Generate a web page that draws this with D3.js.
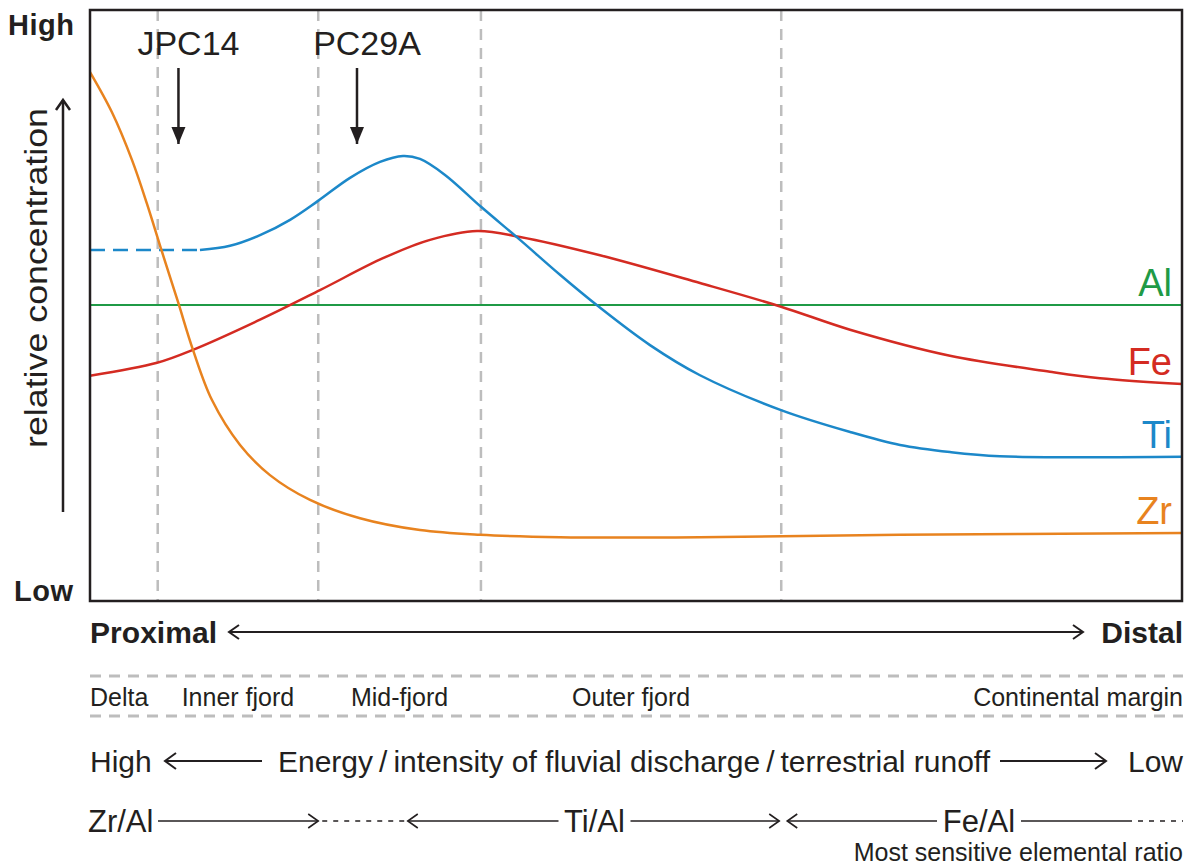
<!DOCTYPE html>
<html>
<head>
<meta charset="utf-8">
<script src="https://cdn.jsdelivr.net/npm/d3@7"></script>
<style>
  body { margin: 0; background: #fff; }
  svg { display: block; }
  text { font-family: "Liberation Sans", Arial, Helvetica, sans-serif; fill: #231f20; }
</style>
</head>
<body>
<svg width="1194" height="868"></svg>
<script>
// ---- data (x: 0 = proximal, 100 = distal; y: 0 = low, 100 = high) ----
const zrCurve = [[0,89.5],[2.01,82.7],[3.85,74.6],[5.22,67.2],[6.59,59.1],[8.06,50.6],[9.43,42.5],
  [11.17,34.0],[13.74,26.4],[16.48,21.3],[20.15,17.1],[24.73,14.0],[30.22,12.0],[35.71,11.2],
  [43.04,10.8],[55.86,10.8],[74.18,11.2],[100,11.5]];
const tiDashed = [[0,59.4],[10.07,59.4]];
const tiCurve = [[10.07,59.4],[12.82,60.1],[15.57,61.9],[18.32,64.5],[20.88,67.7],[23.81,71.6],
  [26.56,74.3],[28.66,75.3],[30.22,74.8],[32.51,72.1],[35.81,66.7],[39.38,61.1],[43.04,55.2],
  [46.52,49.9],[51.28,43.3],[55.86,38.2],[63.28,32.3],[69.6,28.6],[74.18,26.4],[78.75,25.2],
  [83.33,24.5],[100,24.4]];
const feCurve = [[0,38.1],[6.14,40.3],[9.43,42.5],[15.57,47.6],[21.06,52.6],[26.83,58.0],[31.14,61.1],
  [35.44,62.6],[39.38,61.6],[46.7,58.5],[55.86,53.8],[63.28,49.8],[69.6,45.9],[78.75,41.5],
  [87.91,38.8],[92.49,37.7],[100,36.7]];
const alCurve = [[0,50.1],[100,50.1]];

const elements = ["Al", "Fe", "Ti", "Zr"];
const zoneNames = ["Delta", "Inner fjord", "Mid-fjord", "Outer fjord", "Continental margin"];
const zoneBounds = [6.2, 20.9, 35.8, 63.3];
const cores = ["JPC14", "PC29A"];
const coreX = [8.1, 24.45];
const ratios = ["Zr/Al", "Ti/Al", "Fe/Al"];
const ratioSpans = [[0, 20.9], [29.1, 63.3], [63.3, 100]];

// ---- setup ----
const svg = d3.select("svg");
const pLeft = 90, pRight = 1182, pTop = 10, pBottom = 601;
const x = d3.scaleLinear().domain([0, 100]).range([pLeft, pRight]);
const y = d3.scaleLinear().domain([0, 100]).range([pBottom, pTop]);
const ink = "#231f20";
const colors = { Al: "#1f9a46", Fe: "#d42b22", Ti: "#1c88c9", Zr: "#e8831f" };

// arrow helper: straight line with open chevrons or filled heads
function arrow(x1, y1, x2, y2, o) {
  o = Object.assign({ start: false, end: true, len: 10, half: 7, sw: 2, fill: false }, o);
  svg.append("line").attr("x1", x1).attr("y1", y1).attr("x2", x2).attr("y2", y2)
    .attr("stroke", ink).attr("stroke-width", o.sw);
  const a = Math.atan2(y2 - y1, x2 - x1);
  function head(px, py, ang) {
    const bx = px - Math.cos(ang) * o.len, by = py - Math.sin(ang) * o.len;
    const nx = -Math.sin(ang) * o.half, ny = Math.cos(ang) * o.half;
    if (o.fill) {
      svg.append("path").attr("d", `M${bx + nx},${by + ny}L${px},${py}L${bx - nx},${by - ny}Z`)
        .attr("fill", ink);
    } else {
      svg.append("path").attr("d", `M${bx + nx},${by + ny}L${px},${py}L${bx - nx},${by - ny}`)
        .attr("fill", "none").attr("stroke", ink).attr("stroke-width", o.sw)
        .attr("stroke-linejoin", "miter");
    }
  }
  if (o.end) head(x2, y2, a);
  if (o.start) head(x1, y1, a + Math.PI);
}

// zone boundaries (vertical dashed)
svg.append("g").selectAll("line").data(zoneBounds).join("line")
  .attr("x1", d => x(d)).attr("x2", d => x(d))
  .attr("y1", pTop).attr("y2", pBottom)
  .attr("stroke", "#bdbdbd").attr("stroke-width", 2.5).attr("stroke-dasharray", "11,8");

// curves
const line = d3.line().x(d => x(d[0])).y(d => y(d[1])).curve(d3.curveCatmullRom.alpha(0.5));
svg.append("path").datum(alCurve).attr("d", line).attr("fill", "none")
  .attr("stroke", colors.Al).attr("stroke-width", 2);
svg.append("path").datum(feCurve).attr("d", line).attr("fill", "none")
  .attr("stroke", colors.Fe).attr("stroke-width", 2.5);
svg.append("path").datum(tiDashed).attr("d", line).attr("fill", "none")
  .attr("stroke", colors.Ti).attr("stroke-width", 2.5).attr("stroke-dasharray", "15,8");
svg.append("path").datum(tiCurve).attr("d", line).attr("fill", "none")
  .attr("stroke", colors.Ti).attr("stroke-width", 2.5);
svg.append("path").datum(zrCurve).attr("d", line).attr("fill", "none")
  .attr("stroke", colors.Zr).attr("stroke-width", 2.5);

// element labels at the distal end
const ends = { Al: alCurve, Fe: feCurve, Ti: tiCurve, Zr: zrCurve };
elements.forEach(el => {
  const last = ends[el][ends[el].length - 1];
  svg.append("text").attr("x", 1172).attr("y", y(last[1]) - 9)
    .attr("text-anchor", "end").attr("font-size", 38)
    .style("fill", colors[el]).text(el);
});

// frame
svg.append("rect").attr("x", pLeft).attr("y", pTop).attr("width", pRight - pLeft).attr("height", pBottom - pTop)
  .attr("fill", "none").attr("stroke", ink).attr("stroke-width", 2.5);

// y axis words
svg.append("text").attr("x", 8).attr("y", y(100) + 25).attr("font-size", 29)
  .attr("font-weight", "bold").attr("textLength", 66).text("High");
svg.append("text").attr("x", 14).attr("y", y(0)).attr("font-size", 29)
  .attr("font-weight", "bold").attr("textLength", 59).text("Low");
svg.append("text").attr("transform", "translate(47,278) rotate(-90)")
  .attr("text-anchor", "middle").attr("font-size", 31)
  .attr("textLength", 340).attr("lengthAdjust", "spacingAndGlyphs").text("relative concentration");
arrow(63, 512, 63, 100, { len: 10, half: 7, sw: 2.5 });

// core sites
cores.forEach((c, i) => {
  const cx = x(coreX[i]);
  svg.append("text").attr("x", cx + 10).attr("y", 55).attr("text-anchor", "middle")
    .attr("font-size", 34).text(c);
  arrow(cx, 68, cx, 144, { fill: true, len: 17, half: 7, sw: 2.5 });
});

// proximal / distal
svg.append("text").attr("x", pLeft).attr("y", 643).attr("font-size", 30)
  .attr("font-weight", "bold").attr("textLength", 127).text("Proximal");
svg.append("text").attr("x", 1183).attr("y", 643).attr("font-size", 30)
  .attr("text-anchor", "end").attr("font-weight", "bold").text("Distal");
arrow(229, 632, 1083, 632, { start: true, len: 10, half: 7, sw: 2 });

// zone row
[676, 716].forEach(yy => {
  svg.append("line").attr("x1", pLeft).attr("x2", 1183).attr("y1", yy).attr("y2", yy)
    .attr("stroke", "#bdbdbd").attr("stroke-width", 3).attr("stroke-dasharray", "11,8");
});
const edges = [0].concat(zoneBounds, [100]);
zoneNames.forEach((z, i) => {
  let tx = (x(edges[i]) + x(edges[i + 1])) / 2, anchor = "middle";
  if (i === 0) { tx = pLeft; anchor = "start"; }
  if (i === zoneNames.length - 1) { tx = 1183; anchor = "end"; }
  svg.append("text").attr("x", tx).attr("y", 706).attr("text-anchor", anchor)
    .attr("font-size", 25).text(z);
});

// energy row
svg.append("text").attr("x", pLeft).attr("y", 772).attr("font-size", 30).text("High");
arrow(262, 761, 165, 761, { len: 11, half: 8, sw: 2 });
svg.append("text").attr("x", 278).attr("y", 772).attr("font-size", 30)
  .attr("textLength", 712).attr("lengthAdjust", "spacingAndGlyphs")
  .text("Energy\u2009/\u2009intensity of fluvial discharge\u2009/\u2009terrestrial runoff");
arrow(1000, 761, 1106, 761, { len: 11, half: 8, sw: 2 });
svg.append("text").attr("x", 1183).attr("y", 772).attr("text-anchor", "end")
  .attr("font-size", 30).text("Low");

// most sensitive ratio row
const ry = 821;
svg.append("text").attr("x", 88).attr("y", 832).attr("font-size", 31).text(ratios[0]);
arrow(158, ry, x(ratioSpans[0][1]), ry, { len: 10, half: 7, sw: 1.6 });
svg.append("line").attr("x1", x(ratioSpans[0][1]) + 4).attr("x2", x(ratioSpans[1][0]) - 2)
  .attr("y1", ry).attr("y2", ry).attr("stroke", ink).attr("stroke-width", 1.6)
  .attr("stroke-dasharray", "5,6");
const tiMid = (x(ratioSpans[1][0]) + x(ratioSpans[1][1])) / 2;
svg.append("text").attr("x", tiMid).attr("y", 832).attr("text-anchor", "middle")
  .attr("font-size", 31).text(ratios[1]);
arrow(tiMid - 36, ry, x(ratioSpans[1][0]), ry, { len: 10, half: 7, sw: 1.6 });
arrow(tiMid + 36, ry, x(ratioSpans[1][1]) - 2, ry, { len: 10, half: 7, sw: 1.6 });
const feMid = 979;
svg.append("text").attr("x", feMid).attr("y", 832).attr("text-anchor", "middle")
  .attr("font-size", 31).text(ratios[2]);
arrow(feMid - 42, ry, x(ratioSpans[2][0]) + 6, ry, { len: 10, half: 7, sw: 1.6 });
svg.append("line").attr("x1", feMid + 42).attr("x2", 1132).attr("y1", ry).attr("y2", ry)
  .attr("stroke", ink).attr("stroke-width", 1.6);
svg.append("line").attr("x1", 1138).attr("x2", 1183).attr("y1", ry).attr("y2", ry)
  .attr("stroke", ink).attr("stroke-width", 1.6).attr("stroke-dasharray", "5,6");
svg.append("text").attr("x", 1183).attr("y", 861).attr("text-anchor", "end")
  .attr("font-size", 25).text("Most sensitive elemental ratio");
</script>
</body>
</html>
